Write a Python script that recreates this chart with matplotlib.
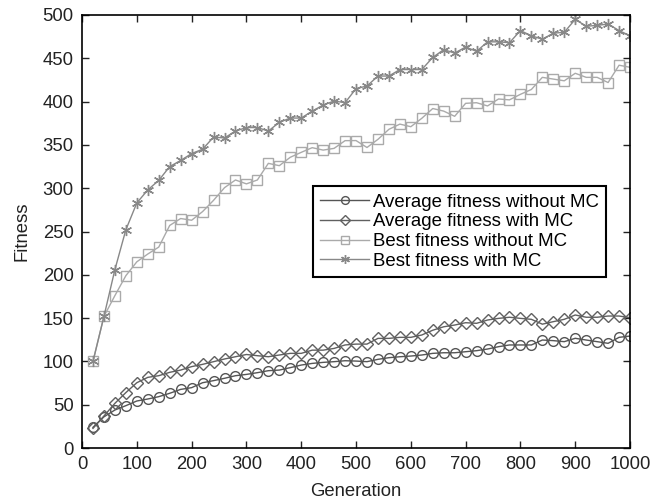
import matplotlib.pyplot as plt
import numpy as np

plt.rcParams['font.family'] = ['Liberation Sans', 'DejaVu Sans']

generation = np.arange(20, 1001, 20)

avg_without_mc = [23.9, 36, 43.9, 48.9, 54.3, 56.6, 59.3, 63.2, 67.7, 69.7,
                  75.4, 77.8, 80.5, 83.5, 85, 87, 89.3, 90, 92.8, 95.8,
                  97.7, 98.9, 99.7, 100.8, 100.4, 99.7, 102.4, 104.3, 105.4, 106.2,
                  107.4, 109.3, 110, 110, 111.2, 112.4, 114.3, 117, 119, 119,
                  119, 124.7, 124, 122.8, 126.7, 124.7, 122.8, 120.9, 127.8, 129.3]
avg_with_mc = [22.7, 37, 51.6, 64, 75.4, 81.6, 83.5, 87.4, 90, 94,
               96.6, 99.7, 102.8, 105.4, 108, 106.6, 105.4, 107.4, 109.3, 109.3,
               113, 113, 115, 119, 120, 120, 126.6, 126.6, 127.8, 127.8,
               130.5, 136, 140, 142, 144.7, 144, 147.8, 149.7, 151, 149.7,
               148.6, 143, 145.9, 148.6, 153.6, 151, 151, 152.4, 152.4, 150.5]
best_without_mc = [100, 152, 176, 199, 215, 224, 232, 257, 265, 263,
                   273, 286, 300.6, 309.5, 305, 309.5, 328.7, 326, 335.7, 341.4,
                   346.8, 344, 346, 354.9, 355, 347, 356.4, 368, 374, 371,
                   380.7, 392, 389, 383, 398, 398.7, 395, 403, 402, 408.4,
                   414, 428, 426, 424, 432.7, 428, 428, 422, 442, 439.6]
best_with_mc = [100, 152, 206, 252, 283, 298, 309, 325, 332, 340,
                345, 359, 358, 366, 370, 370, 366, 376, 381, 381,
                389, 396, 400.7, 398.7, 415, 418, 429.5, 429.5, 437, 437,
                437, 451, 460, 456, 463, 458, 469, 469, 468, 482,
                476, 472, 479, 480, 495, 487, 488, 489.6, 482, 476]

labels = ['Average fitness without MC', 'Average fitness with MC',
          'Best fitness without MC', 'Best fitness with MC']

fig = plt.figure(figsize=(6.52, 5.03), dpi=100)
ax = fig.add_axes([0.1258, 0.1093, 0.8405, 0.8609])

ax.plot(generation, avg_without_mc, color='#555555', marker='o', markersize=7,
        markerfacecolor='none', linewidth=1.0, label=labels[0])
ax.plot(generation, avg_with_mc, color='#606060', marker='D', markersize=6,
        markerfacecolor='none', linewidth=1.0, label=labels[1])
ax.plot(generation, best_without_mc, color='#aaaaaa', marker='s', markersize=6.5,
        markerfacecolor='none', linewidth=1.0, label=labels[2])
ax.plot(generation, best_with_mc, color='#888888', marker=(6, 2, 0), markersize=8,
        linewidth=1.0, label=labels[3])

ax.set_xlim(0, 1000)
ax.set_ylim(0, 500)
ax.set_xticks(np.arange(0, 1001, 100))
ax.set_yticks(np.arange(0, 501, 50))
ax.tick_params(direction='in', top=True, right=True, labelsize=13.3,
               length=5, width=1, pad=6, colors='#222222')
for s in ax.spines.values():
    s.set_linewidth(1.2)

ax.set_xlabel('Generation', fontsize=13.3, color='#222222', labelpad=7)
ax.set_ylabel('Fitness', fontsize=13.3, color='#222222', labelpad=9)

leg = ax.legend(loc='upper left', bbox_to_anchor=(0.4215, 0.605), fontsize=13.4,
                fancybox=False, edgecolor='black', framealpha=1, numpoints=1,
                handlelength=2.6, handletextpad=0.2, labelspacing=0.15,
                borderpad=0.4, borderaxespad=0, markerscale=0.8)
leg.get_frame().set_linewidth(1.5)

plt.savefig('out.png', dpi=100)
